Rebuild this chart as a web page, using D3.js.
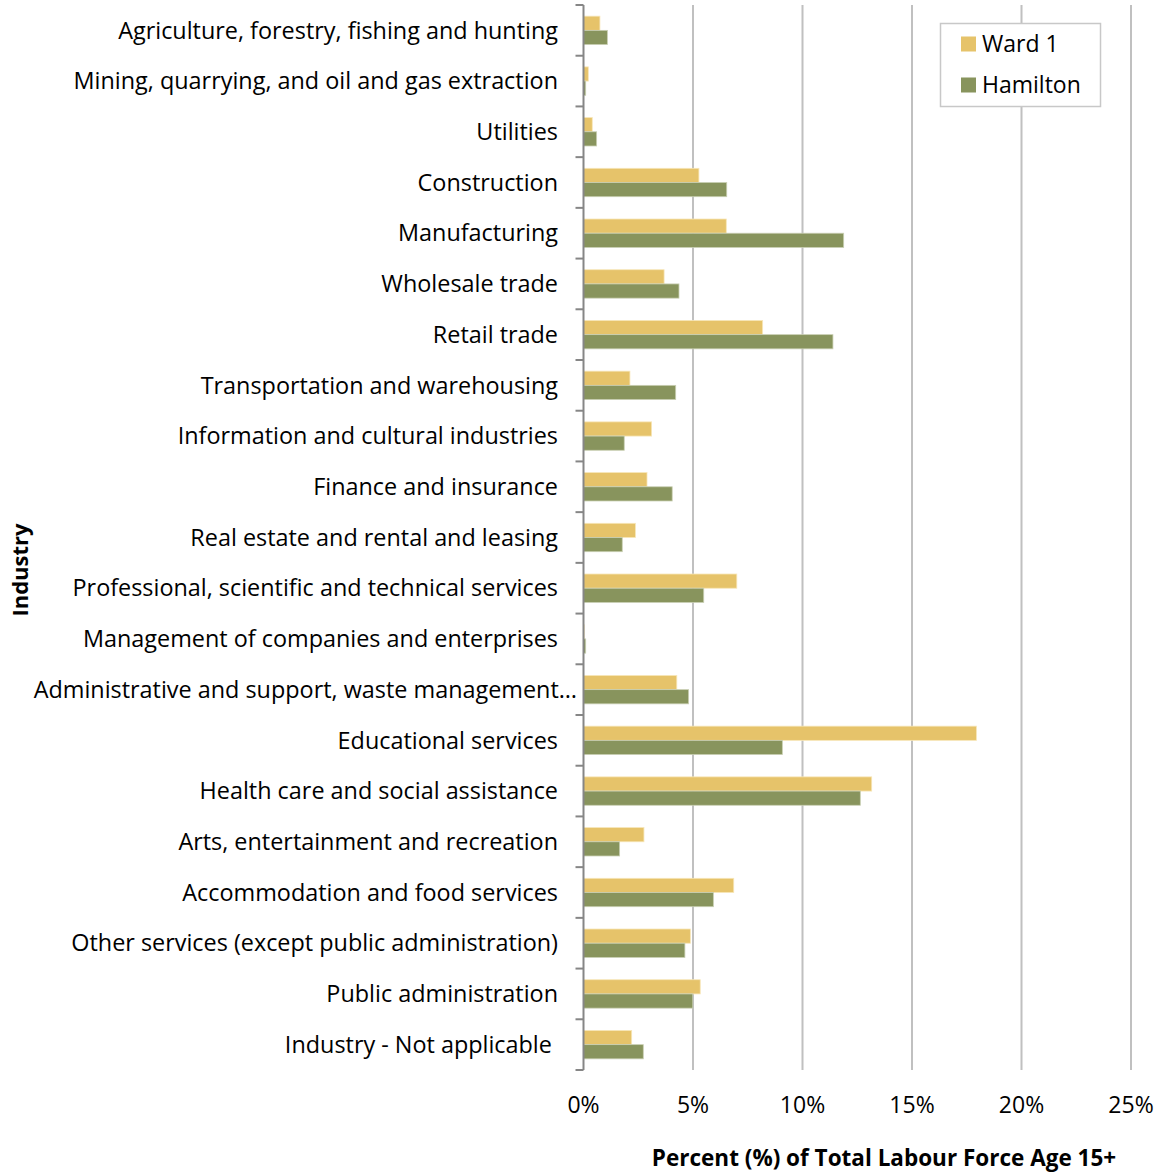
<!DOCTYPE html>
<html>
<head>
<meta charset="utf-8">
<script src="https://cdn.jsdelivr.net/npm/d3@7"></script>
<style>
  html, body { margin: 0; padding: 0; background: #fff; }
  svg { display: block; }
  text { font-family: "Open Sans", "Noto Sans", sans-serif; fill: #000; }
</style>
</head>
<body>
<svg id="chart" width="1161" height="1174"></svg>
<script>
const categories = [
  "Agriculture, forestry, fishing and hunting",
  "Mining, quarrying, and oil and gas extraction",
  "Utilities",
  "Construction",
  "Manufacturing",
  "Wholesale trade",
  "Retail trade",
  "Transportation and warehousing",
  "Information and cultural industries",
  "Finance and insurance",
  "Real estate and rental and leasing",
  "Professional, scientific and technical services",
  "Management of companies and enterprises",
  "Administrative and support, waste management and remediation services",
  "Educational services",
  "Health care and social assistance",
  "Arts, entertainment and recreation",
  "Accommodation and food services",
  "Other services (except public administration)",
  "Public administration",
  "Industry - Not applicable "
];
const seriesNames = ["Ward 1", "Hamilton"];
const ward1 = [0.75, 0.22, 0.40, 5.27, 6.52, 3.68, 8.18, 2.12, 3.11, 2.90, 2.37, 7.00, 0.03, 4.26, 17.94, 13.16, 2.76, 6.86, 4.88, 5.33, 2.20];
const hamilton = [1.09, 0.10, 0.60, 6.54, 11.88, 4.36, 11.39, 4.21, 1.86, 4.05, 1.77, 5.49, 0.10, 4.80, 9.08, 12.64, 1.65, 5.93, 4.63, 4.99, 2.73];
const xTicks = [0, 5, 10, 15, 20, 25];
const xTitle = "Percent (%) of Total Labour Force Age 15+";
const yTitle = "Industry";

const colors = ["#e6c36a", "#88945d"];
const svg = d3.select("#chart");
const pL = 583.5, pR = 1131, pT = 5, pB = 1070;

const x = d3.scaleLinear().domain([0, 25]).range([pL, pR]);
const y = d3.scaleBand().domain(categories).range([pT, pB]).paddingInner(0.44).paddingOuter(0.22);
const ySub = d3.scaleBand().domain(seriesNames).range([0, y.bandwidth()]);

// gridlines
svg.append("g").selectAll("line").data(xTicks.filter(t => t > 0)).join("line")
  .attr("x1", d => x(d)).attr("x2", d => x(d))
  .attr("y1", pT).attr("y2", pB)
  .attr("stroke", "#c0c0c0").attr("stroke-width", 2);

// bars
const series = [ward1, hamilton];
const gBars = svg.append("g");
series.forEach((vals, si) => {
  gBars.append("g").selectAll("rect").data(vals).join("rect")
    .attr("x", x(0))
    .attr("y", (d, i) => y(categories[i]) + ySub(seriesNames[si]))
    .attr("width", d => x(d) - x(0))
    .attr("height", ySub.bandwidth())
    .attr("fill", colors[si])
    .attr("stroke", si === 0 ? "#f7e6b8" : "#c9cfb3")
    .attr("stroke-width", 0.8);
});

// y axis line and ticks
const step = (pB - pT) / categories.length;
const yTickPos = d3.range(categories.length + 1).map(i => pT + i * step);
svg.append("line").attr("x1", pL).attr("x2", pL).attr("y1", pT).attr("y2", pB)
  .attr("stroke", "#868686").attr("stroke-width", 2);
svg.append("g").selectAll("line").data(yTickPos).join("line")
  .attr("x1", pL - 8).attr("x2", pL).attr("y1", d => d).attr("y2", d => d)
  .attr("stroke", "#868686").attr("stroke-width", 2);

// category labels (truncate word-wise with ellipsis when too long)
const labelG = svg.append("g");
categories.forEach(c => {
  const t = labelG.append("text")
    .attr("x", 558)
    .attr("y", y(c) + y.bandwidth() / 2)
    .attr("dy", "0.35em")
    .attr("text-anchor", "end")
    .style("font-size", "23.4px")
    .style("white-space", "pre")
    .text(c);
  if (t.node().getComputedTextLength() > 530) {
    const words = c.split(" ");
    t.attr("x", 577);
    while (words.length > 1 && t.node().getComputedTextLength() > 546) {
      words.pop();
      t.text(words.join(" ") + "…");
    }
  }
});

// x tick labels
svg.append("g").selectAll("text").data(xTicks).join("text")
  .attr("x", d => x(d)).attr("y", 1105).attr("dy", "0.35em")
  .attr("text-anchor", "middle").style("font-size", "23px")
  .text(d => d + "%");

// axis titles
svg.append("text").attr("x", 884).attr("y", 1158).attr("dy", "0.35em")
  .attr("text-anchor", "middle").style("font-size", "22.5px").style("font-weight", "bold")
  .text(xTitle);
svg.append("text").attr("transform", "translate(20,570) rotate(-90)").attr("dy", "0.35em")
  .attr("text-anchor", "middle").style("font-size", "22px").style("font-weight", "bold")
  .text(yTitle);

// legend
const lg = svg.append("g");
lg.append("rect").attr("x", 940.5).attr("y", 23.5).attr("width", 160).attr("height", 83)
  .attr("fill", "#fff").attr("stroke", "#c8c8c8").attr("stroke-width", 1.5);
seriesNames.forEach((n, i) => {
  const cy = 44 + i * 41;
  lg.append("rect").attr("x", 961).attr("y", cy - 7.5).attr("width", 15).attr("height", 15).attr("fill", colors[i]);
  lg.append("text").attr("x", 982).attr("y", cy).attr("dy", "0.35em").style("font-size", "23px").text(n);
});
</script>
</body>
</html>
